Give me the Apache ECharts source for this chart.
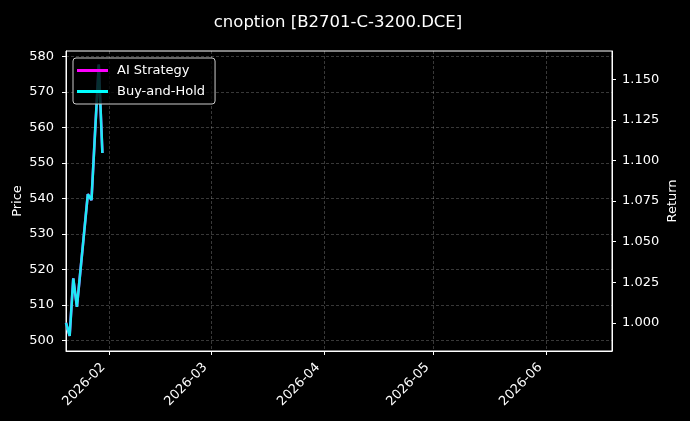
<!DOCTYPE html>
<html>
<head>
<meta charset="utf-8">
<script src="https://cdn.jsdelivr.net/npm/echarts@6/dist/echarts.min.js"></script>
<style>
    html, body { margin: 0; padding: 0; background: #000; }
    #main { width: 690px; height: 421px; }
</style>
</head>
<body>
<div id="main"></div>
<script>
// trading days shown
var dates = ['2026-01-20', '2026-01-21', '2026-01-22', '2026-01-23', '2026-01-26',
             '2026-01-27', '2026-01-28', '2026-01-29', '2026-01-30'];
// underlying option price (left axis)
var price = [504.5, 501.2, 517.4, 509.4, 541.2, 539.5, 559.0, 577.3, 552.8];
// cumulative return (right axis)
var aiReturn = [1.000, 0.9920, 1.0274, 1.0099, 1.0793, 1.0756, 1.1181, 1.1590, 1.1046];
var bhReturn = [1.000, 0.9920, 1.0274, 1.0099, 1.0793, 1.0756, 1.1181, 1.1590, 1.1046];

var monthTicks = ['2026-02-01', '2026-03-01', '2026-04-01', '2026-05-01', '2026-06-01'];
var priceTicks = [500, 510, 520, 530, 540, 550, 560, 570, 580];
var returnTicks = [1.000, 1.025, 1.050, 1.075, 1.100, 1.125, 1.150];

function ts(s) {
    return +new Date(s + 'T00:00:00');
}

function pairs(xs, ys) {
    var out = [];
    for (var i = 0; i < xs.length; i++) {
        out.push([ts(xs[i]), ys[i]]);
    }
    return out;
}

var myChart = echarts.init(document.getElementById('main'));
var font = 'DejaVu Sans';
var gridLine = { show: true, lineStyle: { color: 'rgba(255,255,255,0.28)', width: 0.8, type: [3, 2] } };

var option = {
    backgroundColor: '#000',
    animation: false,
    textStyle: { fontFamily: font },
    title: {
        text: 'cnoption [B2701-C-3200.DCE]',
        left: 333,
        textAlign: 'center',
        top: 9,
        textStyle: { color: '#fff', fontSize: 16.5, fontWeight: 'normal', fontFamily: font }
    },
    legend: {
        left: 73,
        top: 58,
        orient: 'vertical',
        data: ['AI Strategy', 'Buy-and-Hold'],
        icon: 'rect',
        itemWidth: 31,
        itemHeight: 3,
        itemGap: 8,
        padding: [6, 10, 6, 4],
        backgroundColor: 'rgba(0,0,0,0.8)',
        borderColor: '#cccccc',
        borderWidth: 1,
        borderRadius: 3,
        textStyle: { color: '#fff', fontSize: 13, fontFamily: font, padding: [0, 0, 0, 4] }
    },
    grid: {
        left: 66,
        right: 78,
        top: 51,
        bottom: 70,
        outerBoundsMode: 'none',
        containLabel: false,
        show: true,
        borderColor: '#fff',
        borderWidth: 1
    },
    xAxis: {
        // timestamps on a value axis so the month ticks can be placed exactly
        type: 'value',
        min: ts('2026-01-20'),
        max: ts('2026-06-19'),
        axisLine: { lineStyle: { color: '#fff' } },
        axisTick: { show: true, length: 4, lineStyle: { color: '#fff' }, customValues: monthTicks.map(ts) },
        axisLabel: {
            color: '#fff',
            fontSize: 13,
            rotate: 45,
            margin: 8,
            padding: [0, 9, 0, 0],
            customValues: monthTicks.map(ts),
            formatter: function (v) {
                var d = new Date(v);
                var m = d.getMonth() + 1;
                return d.getFullYear() + '-' + (m < 10 ? '0' + m : m);
            }
        },
        splitLine: gridLine
    },
    yAxis: [
        {
            type: 'value',
            name: 'Price',
            nameLocation: 'middle',
            nameRotate: 90,
            nameGap: 42,
            nameMoveOverlap: false,
            nameTextStyle: { color: '#fff', fontSize: 13 },
            min: 496.98,
            max: 581.55,
            axisLine: { show: true, lineStyle: { color: '#fff' } },
            axisTick: { show: true, length: 4, lineStyle: { color: '#fff' }, customValues: priceTicks },
            axisLabel: { color: '#fff', fontSize: 13, margin: 12, customValues: priceTicks },
            splitLine: gridLine
        },
        {
            type: 'value',
            name: 'Return',
            nameLocation: 'middle',
            nameRotate: 90,
            nameGap: 54,
            nameMoveOverlap: false,
            nameTextStyle: { color: '#fff', fontSize: 13 },
            min: 0.98274,
            max: 1.1674,
            position: 'right',
            axisLine: { show: true, lineStyle: { color: '#fff' } },
            axisTick: { show: true, length: 4, lineStyle: { color: '#fff' }, customValues: returnTicks },
            axisLabel: {
                color: '#fff', fontSize: 13, margin: 10, customValues: returnTicks,
                formatter: function (v) { return v.toFixed(3); }
            },
            splitLine: { show: false }
        }
    ],
    series: [
        {
            name: 'Price',
            type: 'line',
            yAxisIndex: 0,
            symbol: 'none',
            z: 1,
            lineStyle: { color: '#8b0000', width: 1.5 },
            data: pairs(dates, price)
        },
        {
            name: 'AI Strategy',
            type: 'line',
            yAxisIndex: 1,
            symbol: 'none',
            z: 2,
            color: '#ff00ff',
            lineStyle: { color: '#ff00ff', width: 2.5 },
            data: pairs(dates, aiReturn)
        },
        {
            name: 'Buy-and-Hold',
            type: 'line',
            yAxisIndex: 1,
            symbol: 'none',
            z: 3,
            color: '#00ffff',
            lineStyle: { color: '#1ee8f5', width: 2.6 },
            data: pairs(dates, bhReturn)
        }
    ]
};

myChart.setOption(option);
</script>
</body>
</html>
